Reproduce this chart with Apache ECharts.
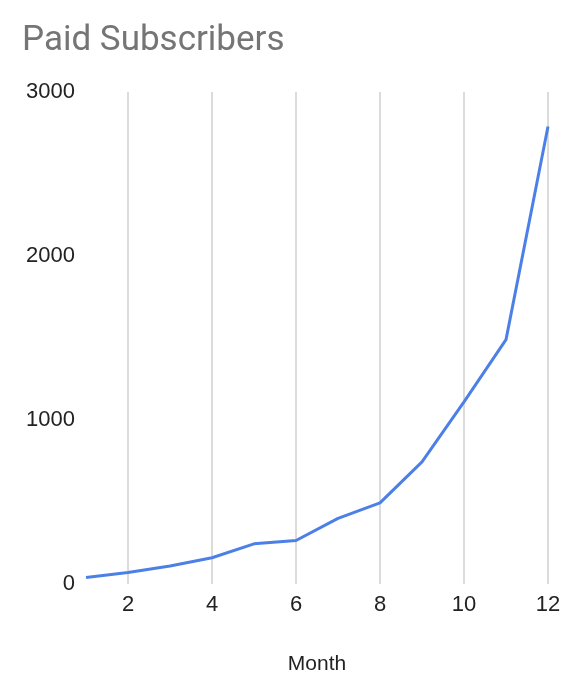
<!DOCTYPE html>
<html>
<head>
<meta charset="utf-8">
<script src="https://cdn.jsdelivr.net/npm/echarts@6/dist/echarts.min.js"></script>
<style>
html,body{margin:0;padding:0;background:#fff;}
#chart{width:570px;height:700px;}
</style>
</head>
<body>
<div id="chart"></div>
<script>
var months = ['1','2','3','4','5','6','7','8','9','10','11','12'];
var subscribers = [40, 70, 110, 160, 245, 265, 400, 495, 745, 1110, 1490, 2790];
var yTicks = [0, 1000, 2000, 3000];

var chart = echarts.init(document.getElementById('chart'));
chart.setOption({
  backgroundColor: '#ffffff',
  animation: false,
  title: {
    text: 'Paid Subscribers',
    left: 17,
    top: 19,
    textStyle: {
      fontFamily: 'Roboto',
      fontSize: 35,
      fontWeight: 'normal',
      color: '#757575'
    }
  },
  grid: { left: 86, right: 22, top: 92, bottom: 116, containLabel: false },
  xAxis: {
    type: 'category',
    data: months,
    boundaryGap: false,
    name: 'Month',
    nameLocation: 'middle',
    nameGap: 70,
    nameTextStyle: { fontFamily: 'Liberation Sans', fontSize: 21, color: '#222222' },
    axisLine: { show: false },
    axisTick: { show: false },
    axisLabel: {
      interval: function (i) { return i % 2 === 1; },
      margin: 10,
      fontFamily: 'Liberation Sans',
      fontSize: 22,
      color: '#222222'
    },
    splitLine: {
      show: true,
      interval: function (i) { return i % 2 === 1; },
      lineStyle: { color: '#cfcfcf', width: 1.5 }
    }
  },
  yAxis: {
    type: 'value',
    min: yTicks[0],
    max: yTicks[yTicks.length - 1],
    interval: 1000,
    axisLine: { show: false },
    axisTick: { show: false },
    splitLine: { show: false },
    axisLabel: {
      margin: 11,
      formatter: function (v) { return String(v); },
      fontFamily: 'Liberation Sans',
      fontSize: 22,
      color: '#222222'
    }
  },
  series: [{
    type: 'line',
    data: subscribers,
    showSymbol: false,
    symbol: 'none',
    lineStyle: { color: '#4c80e6', width: 3 },
    itemStyle: { color: '#4c80e6' }
  }]
});
</script>
</body>
</html>
